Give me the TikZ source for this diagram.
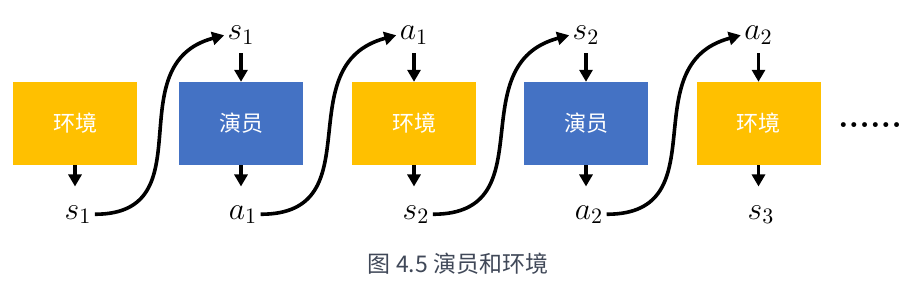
\documentclass[tikz,border=0pt]{standalone}
\usepackage{amsmath}
\usepackage{fontspec}
\usepackage{tikz}
\usetikzlibrary{arrows.meta}
\newfontfamily\cjk{Noto Sans CJK SC}
\definecolor{envyellow}{RGB}{255,192,0}
\definecolor{actblue}{RGB}{68,114,196}
\definecolor{capgray}{RGB}{64,72,88}

\begin{document}
\begin{tikzpicture}[x=1pt,y=-1pt,
  envbox/.style={fill=envyellow,minimum width=124pt,minimum height=83pt,inner sep=0pt,text=white,font=\cjk\fontsize{22}{26}\selectfont},
  actbox/.style={envbox,fill=actblue},
  lbl/.style={scale=2.2,inner xsep=1.4pt,inner ysep=0pt,text height=6.4pt,text depth=3.2pt,anchor=base,font=\fontsize{14.4}{17}\selectfont},
  arr/.style={-{Triangle[width=13pt,length=12pt]},line width=3.6pt}]
  \useasboundingbox (0,0) rectangle (921,286);

  \node[envbox] (env1) at (75,123.5) {环境};
  \node[actbox] (act1) at (241,123.5) {演员};
  \node[envbox] (env2) at (414,123.5) {环境};
  \node[actbox] (act2) at (586,123.5) {演员};
  \node[envbox] (env3) at (758.5,123.5) {环境};
  \node[anchor=base,inner sep=0pt,font=\bfseries\fontsize{34}{38}\selectfont] (more) at (870,128) {......};

  \node[lbl] (s1top) at (241,40) {$s_1$};
  \node[lbl] (a1top) at (414,40) {$a_1$};
  \node[lbl] (s2top) at (586,40) {$s_2$};
  \node[lbl] (a2top) at (758.5,40) {$a_2$};
  \node[lbl] (s1bot) at (78,219) {$s_1$};
  \node[lbl] (a1bot) at (243,219) {$a_1$};
  \node[lbl] (s2bot) at (416,219) {$s_2$};
  \node[lbl] (a2bot) at (589,219) {$a_2$};
  \node[lbl] (s3bot) at (761,219) {$s_3$};

  \draw[arr,shorten <=6pt] (s1top.south) -- (act1.north);
  \draw[arr,shorten <=6pt] (a1top.south) -- (env2.north);
  \draw[arr,shorten <=6pt] (s2top.south) -- (act2.north);
  \draw[arr,shorten <=6pt] (a2top.south) -- (env3.north);

  \draw[arr,shorten >=18pt] (env1.south) -- (env1.south |- s1bot.north);
  \draw[arr,shorten >=18pt] (act1.south) -- (act1.south |- a1bot.north);
  \draw[arr,shorten >=18pt] (env2.south) -- (env2.south |- s2bot.north);
  \draw[arr,shorten >=18pt] (act2.south) -- (act2.south |- a2bot.north);
  \draw[arr,shorten >=18pt] (env3.south) -- (env3.south |- s3bot.north);

  \draw[arr] (s1bot.mid east) to[out=0,in=195,looseness=1.3] (s1top.mid west);
  \draw[arr] (a1bot.mid east) to[out=0,in=195,looseness=1.3] (a1top.mid west);
  \draw[arr] (s2bot.mid east) to[out=0,in=195,looseness=1.3] (s2top.mid west);
  \draw[arr] (a2bot.mid east) to[out=0,in=195,looseness=1.3] (a2top.mid west);

  \node[font=\cjk\fontsize{23}{28}\selectfont,text=capgray] (caption) at (458,264) {图 4.5 演员和环境};
\end{tikzpicture}
\end{document}
